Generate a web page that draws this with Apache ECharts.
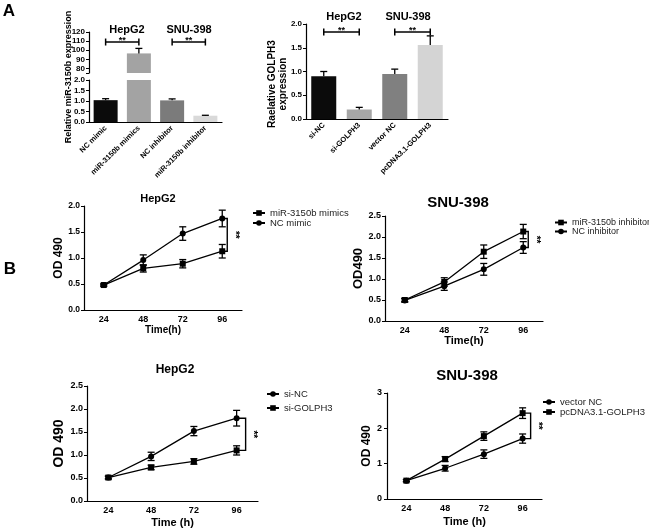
<!DOCTYPE html>
<html><head><meta charset="utf-8">
<script src="https://cdn.jsdelivr.net/npm/echarts@6/dist/echarts.min.js"></script>
<style>html,body{margin:0;padding:0;background:#fff}#c{width:649px;height:531px}</style>
</head><body><div id="c"></div>
<script>
// ---------- Panel A (left): miR-3150b expression, broken axis ----------
const a1Categories = ['NC mimic', 'miR-3150b mimics', 'NC inhibitor', 'miR-3150b inhibitor'];
const a1Values = [1.04, 96.5, 1.03, 0.30];
const a1Errors = [0.07, 5.5, 0.07, 0.02];
const a1Colors = ['#0b0b0b', '#a3a3a3', '#7b7b7b', '#d9d9d9'];
const a1UpperLabels = [80, 90, 100, 110, 120];
const a1UpperTicks = [75, 80, 90, 100, 110, 120];
const a1LowerLabels = [0, 0.5, 1.0, 1.5, 2.0];

// ---------- Panel A (right): GOLPH3 expression ----------
const a2Categories = ['si-NC', 'si-GOLPH3', 'vector NC', 'pcDNA3.1-GOLPH3'];
const a2Values = [0.90, 0.20, 0.95, 1.56];
const a2Errors = [0.10, 0.045, 0.10, 0.19];
const a2Colors = ['#0b0b0b', '#a6a6a6', '#808080', '#d4d4d4'];

// ---------- Panel B: proliferation ----------
const timePoints = ['24', '48', '72', '96'];

const b1MimicsName = 'miR-3150b mimics';
const b1Mimics = [0.48, 0.80, 0.89, 1.13];
const b1MimicsErr = [0.02, 0.07, 0.08, 0.13];
const b1NCName = 'NC mimic';
const b1NC = [0.48, 0.96, 1.47, 1.76];
const b1NCErr = [0.02, 0.10, 0.13, 0.16];

const b2InhName = 'miR-3150b inhibitor';
const b2Inh = [0.50, 0.93, 1.65, 2.13];
const b2InhErr = [0.04, 0.10, 0.16, 0.17];
const b2NCName = 'NC inhibitor';
const b2NC = [0.49, 0.83, 1.23, 1.75];
const b2NCErr = [0.04, 0.10, 0.14, 0.14];

const b3SiNCName = 'si-NC';
const b3SiNC = [0.51, 0.97, 1.52, 1.80];
const b3SiNCErr = [0.03, 0.09, 0.10, 0.17];
const b3SiGName = 'si-GOLPH3';
const b3SiG = [0.51, 0.73, 0.86, 1.10];
const b3SiGErr = [0.03, 0.05, 0.06, 0.10];

const b4VecName = 'vector NC';
const b4Vec = [0.52, 0.87, 1.27, 1.71];
const b4VecErr = [0.03, 0.08, 0.12, 0.13];
const b4PcName = 'pcDNA3.1-GOLPH3';
const b4Pc = [0.52, 1.13, 1.78, 2.43];
const b4PcErr = [0.03, 0.07, 0.12, 0.15];

const FONT = '"Liberation Sans", Arial, Helvetica, sans-serif';
const chart = echarts.init(document.getElementById('c'));

// ---------- helpers ----------
function capErrorItem(params, api, both) {
  const x = api.value(0), y = api.value(1), e = api.value(2);
  const top = api.coord([x, y + e]);
  const bot = api.coord([x, both ? y - e : y]);
  const w = 3.5;
  const st = {stroke: '#000', lineWidth: 1.3};
  const kids = [
    {type: 'line', shape: {x1: top[0], y1: top[1], x2: bot[0], y2: bot[1]}, style: st},
    {type: 'line', shape: {x1: top[0] - w, y1: top[1], x2: top[0] + w, y2: top[1]}, style: st}
  ];
  if (both) kids.push({type: 'line', shape: {x1: bot[0] - w, y1: bot[1], x2: bot[0] + w, y2: bot[1]}, style: st});
  return {type: 'group', children: kids};
}
function barErrSeries(idx, vals, errs, keep) {
  const data = [];
  vals.forEach((v, i) => { if (keep(v)) data.push([i, v, errs[i]]); });
  return {type: 'custom', xAxisIndex: idx, yAxisIndex: idx, z: 5, silent: true,
    renderItem: (p, api) => capErrorItem(p, api, false), data: data};
}
function lineErrSeries(idx, vals, errs) {
  return {type: 'custom', xAxisIndex: idx, yAxisIndex: idx, z: 4, silent: true,
    renderItem: (p, api) => capErrorItem(p, api, true),
    data: vals.map((v, i) => [i, v, errs[i]])};
}
// horizontal significance bracket between two categories
function hBracketSeries(idx, items) {
  return {type: 'custom', xAxisIndex: idx, yAxisIndex: idx, z: 6, silent: true, clip: false,
    renderItem: (p, api) => {
      const a = api.coord([api.value(0), api.value(2)]);
      const b = api.coord([api.value(1), api.value(2)]);
      const st = {stroke: '#000', lineWidth: 1.5};
      return {type: 'group', children: [
        {type: 'line', shape: {x1: a[0], y1: a[1], x2: b[0], y2: b[1]}, style: st},
        {type: 'line', shape: {x1: a[0], y1: a[1] - 3.5, x2: a[0], y2: a[1] + 3.5}, style: st},
        {type: 'line', shape: {x1: b[0], y1: b[1] - 3.5, x2: b[0], y2: b[1] + 3.5}, style: st},
        {type: 'text', x: (a[0] + b[0]) / 2, y: a[1] + 3,
          style: {text: '**', font: 'bold 9px ' + FONT, fill: '#000', align: 'center', verticalAlign: 'bottom', textAlign: 'center', textVerticalAlign: 'bottom'}}
      ]};
    },
    data: items};
}
// vertical significance bracket at the last time point
function vBracketSeries(idx, top, bottom, gap) {
  return {type: 'custom', xAxisIndex: idx, yAxisIndex: idx, z: 6, silent: true, clip: false,
    renderItem: (p, api) => {
      const a = api.coord([api.value(0), api.value(1)]);
      const b = api.coord([api.value(0), api.value(2)]);
      const bx = a[0] + gap;
      const st = {stroke: '#000', lineWidth: 1.4, fill: null};
      return {type: 'group', children: [
        {type: 'polyline', shape: {points: [[a[0] + 2, a[1]], [bx, a[1]], [bx, b[1]], [b[0] + 2, b[1]]]}, style: st},
        {type: 'text', x: bx + 7, y: (a[1] + b[1]) / 2, rotation: -Math.PI / 2,
          style: {text: '**', font: 'bold 10px ' + FONT, fill: '#000', align: 'center', verticalAlign: 'middle', textAlign: 'center', textVerticalAlign: 'middle'}}
      ]};
    },
    data: [[3, top, bottom]]};
}
function lineSeries(idx, name, vals, symbol) {
  return {type: 'line', name: name, xAxisIndex: idx, yAxisIndex: idx, data: vals,
    symbol: symbol, symbolSize: 6, showSymbol: true, z: 3,
    lineStyle: {color: '#000', width: 1.3}, itemStyle: {color: '#000'}};
}
const tickLabel = (size) => ({color: '#000', fontWeight: 'bold', fontSize: size, fontFamily: FONT});
function catAxis(idx, opts) {
  return Object.assign({type: 'category', gridIndex: idx, data: timePoints, boundaryGap: true,
    axisLine: {lineStyle: {color: '#000', width: 1.2}},
    axisTick: {alignWithLabel: true, length: 3, lineStyle: {color: '#000'}},
    axisLabel: Object.assign(tickLabel(9), {margin: 5}),
    nameLocation: 'middle', nameTextStyle: {color: '#000', fontWeight: 'bold', fontFamily: FONT}}, opts);
}
function valAxis(idx, opts) {
  return Object.assign({type: 'value', gridIndex: idx, splitLine: {show: false},
    axisLine: {show: true, lineStyle: {color: '#000', width: 1.2}},
    axisTick: {show: true, length: 3, lineStyle: {color: '#000'}},
    axisLabel: Object.assign(tickLabel(9), {margin: 4}),
    nameLocation: 'middle', nameTextStyle: {color: '#000', fontWeight: 'bold', fontFamily: FONT}}, opts);
}
function legend(left, top, names, gap, size) {
  return {left: left, top: top, orient: 'vertical', itemWidth: 12, itemHeight: 7, itemGap: gap,
    padding: 0, selectedMode: false, data: names,
    textStyle: {fontSize: size, color: '#222', fontFamily: FONT}};
}
function text(x, y, str, font, rot) {
  return {type: 'text', x: x, y: y, rotation: rot || 0,
    style: {text: str, font: font, fill: '#000', align: 'center', verticalAlign: 'middle', textAlign: 'center', textVerticalAlign: 'middle'}};
}

const option = {
  animation: false,
  textStyle: {fontFamily: FONT},
  grid: [
    {left: 89, top: 32, width: 133, height: 41},   // A1 upper
    {left: 89, top: 80, width: 133, height: 42},   // A1 lower
    {left: 306, top: 24, width: 142, height: 95},  // A2
    {left: 84, top: 206, width: 158, height: 104}, // B1
    {left: 385, top: 216, width: 158, height: 105},// B2
    {left: 87, top: 386, width: 171, height: 115}, // B3
    {left: 387, top: 393, width: 155, height: 106} // B4
  ],
  xAxis: [
    {type: 'category', gridIndex: 0, data: a1Categories, show: false},
    {type: 'category', gridIndex: 1, data: a1Categories,
      axisLine: {lineStyle: {color: '#000', width: 1.2}},
      axisTick: {alignWithLabel: true, length: 3, lineStyle: {color: '#000'}},
      axisLabel: Object.assign(tickLabel(7.5), {rotate: 45, interval: 0, margin: 5})},
    {type: 'category', gridIndex: 2, data: a2Categories,
      axisLine: {lineStyle: {color: '#000', width: 1.2}},
      axisTick: {alignWithLabel: true, length: 3, lineStyle: {color: '#000'}},
      axisLabel: Object.assign(tickLabel(7.5), {rotate: 45, interval: 0, margin: 5})},
    catAxis(3, {name: 'Time(h)', nameGap: 9, nameTextStyle: {color: '#000', fontWeight: 'bold', fontSize: 10, fontFamily: FONT}}),
    catAxis(4, {name: 'Time(h)', nameGap: 9, nameTextStyle: {color: '#000', fontWeight: 'bold', fontSize: 11, fontFamily: FONT}}),
    catAxis(5, {name: 'Time (h)', nameGap: 16, nameTextStyle: {color: '#000', fontWeight: 'bold', fontSize: 11, fontFamily: FONT}}),
    catAxis(6, {name: 'Time (h)', nameGap: 17, nameTextStyle: {color: '#000', fontWeight: 'bold', fontSize: 11, fontFamily: FONT}})
  ],
  yAxis: [
    valAxis(0, {min: 75, max: 120,
      axisLabel: Object.assign(tickLabel(8), {margin: 4, customValues: a1UpperLabels}),
      axisTick: {show: true, length: 3, lineStyle: {color: '#000'}, customValues: a1UpperTicks}}),
    valAxis(1, {min: 0, max: 2, interval: 0.5,
      axisLabel: Object.assign(tickLabel(8), {margin: 4, customValues: a1LowerLabels, formatter: v => v.toFixed(1)})}),
    valAxis(2, {min: 0, max: 2, interval: 0.5,
      axisLabel: Object.assign(tickLabel(8), {margin: 4, formatter: v => v.toFixed(1)})}),
    valAxis(3, {min: 0, max: 2, interval: 0.5, name: 'OD 490', nameGap: 15,
      nameTextStyle: {color: '#000', fontWeight: 'bold', fontSize: 12, fontFamily: FONT},
      axisLabel: Object.assign(tickLabel(8.5), {margin: 4, formatter: v => v.toFixed(1)})}),
    valAxis(4, {min: 0, max: 2.5, interval: 0.5, name: 'OD490', nameGap: 12,
      nameTextStyle: {color: '#000', fontWeight: 'bold', fontSize: 13, fontFamily: FONT},
      axisLabel: Object.assign(tickLabel(9), {margin: 4, formatter: v => v.toFixed(1)})}),
    valAxis(5, {min: 0, max: 2.5, interval: 0.5, name: 'OD 490', nameGap: 13,
      nameTextStyle: {color: '#000', fontWeight: 'bold', fontSize: 14, fontFamily: FONT},
      axisLabel: Object.assign(tickLabel(9), {margin: 4, formatter: v => v.toFixed(1)})}),
    valAxis(6, {min: 0, max: 3, interval: 1, name: 'OD 490', nameGap: 11,
      nameTextStyle: {color: '#000', fontWeight: 'bold', fontSize: 12, fontFamily: FONT},
      axisLabel: Object.assign(tickLabel(9), {margin: 5})})
  ],
  legend: [
    legend(252, 208, [b1MimicsName, b1NCName], 0, 9.5),
    legend(554, 218, [b2InhName, b2NCName], 0, 9),
    legend(266, 389, [b3SiNCName, b3SiGName], 4, 9.5),
    legend(542, 397, [b4VecName, b4PcName], 0, 9.5)
  ],
  series: [
    // A1 upper part (values above the break)
    {type: 'bar', xAxisIndex: 0, yAxisIndex: 0, barWidth: 24, clip: true,
      data: a1Values.map((v, i) => v > 2 ? {value: v, itemStyle: {color: a1Colors[i]}} : '-')},
    barErrSeries(0, a1Values, a1Errors, v => v > 2),
    hBracketSeries(0, [[0, 1, 109], [2, 3, 109]]),
    // A1 lower part
    {type: 'bar', xAxisIndex: 1, yAxisIndex: 1, barWidth: 24, clip: true,
      data: a1Values.map((v, i) => ({value: v, itemStyle: {color: a1Colors[i]}}))},
    barErrSeries(1, a1Values, a1Errors, v => v <= 2),
    // A2
    {type: 'bar', xAxisIndex: 2, yAxisIndex: 2, barWidth: 25,
      data: a2Values.map((v, i) => ({value: v, itemStyle: {color: a2Colors[i]}}))},
    barErrSeries(2, a2Values, a2Errors, v => true),
    hBracketSeries(2, [[0, 1, 1.83], [2, 3, 1.83]]),
    // B1
    lineErrSeries(3, b1Mimics, b1MimicsErr), lineErrSeries(3, b1NC, b1NCErr),
    lineSeries(3, b1MimicsName, b1Mimics, 'rect'), lineSeries(3, b1NCName, b1NC, 'circle'),
    vBracketSeries(3, b1NC[3], b1Mimics[3], 5),
    // B2
    lineErrSeries(4, b2Inh, b2InhErr), lineErrSeries(4, b2NC, b2NCErr),
    lineSeries(4, b2InhName, b2Inh, 'rect'), lineSeries(4, b2NCName, b2NC, 'circle'),
    vBracketSeries(4, b2Inh[3], b2NC[3], 5),
    // B3
    lineErrSeries(5, b3SiNC, b3SiNCErr), lineErrSeries(5, b3SiG, b3SiGErr),
    lineSeries(5, b3SiNCName, b3SiNC, 'circle'), lineSeries(5, b3SiGName, b3SiG, 'rect'),
    vBracketSeries(5, b3SiNC[3], b3SiG[3], 9),
    // B4
    lineErrSeries(6, b4Vec, b4VecErr), lineErrSeries(6, b4Pc, b4PcErr),
    lineSeries(6, b4VecName, b4Vec, 'circle'), lineSeries(6, b4PcName, b4Pc, 'rect'),
    vBracketSeries(6, b4Pc[3], b4Vec[3], 8)
  ],
  graphic: [
    text(9, 11, 'A', 'bold 17px ' + FONT),
    text(10, 269, 'B', 'bold 17px ' + FONT),
    text(69, 77, 'Relative miR-3150b expression', 'bold 9px ' + FONT, Math.PI / 2),
    text(127, 30, 'HepG2', 'bold 11px ' + FONT),
    text(189, 30, 'SNU-398', 'bold 11px ' + FONT),
    text(344, 17, 'HepG2', 'bold 11px ' + FONT),
    text(408, 17, 'SNU-398', 'bold 11px ' + FONT),
    {type: 'text', x: 278, y: 84, rotation: Math.PI / 2,
      style: {text: 'Raelative GOLPH3\nexpression', font: 'bold 10px ' + FONT, lineHeight: 11, fill: '#000',
        align: 'center', verticalAlign: 'middle', textAlign: 'center', textVerticalAlign: 'middle'}},
    text(158, 199, 'HepG2', 'bold 11px ' + FONT),
    text(458, 203, 'SNU-398', 'bold 15px ' + FONT),
    text(175, 370, 'HepG2', 'bold 12px ' + FONT),
    text(467, 376, 'SNU-398', 'bold 15px ' + FONT)
  ]
};
chart.setOption(option);
</script>
</body></html>
